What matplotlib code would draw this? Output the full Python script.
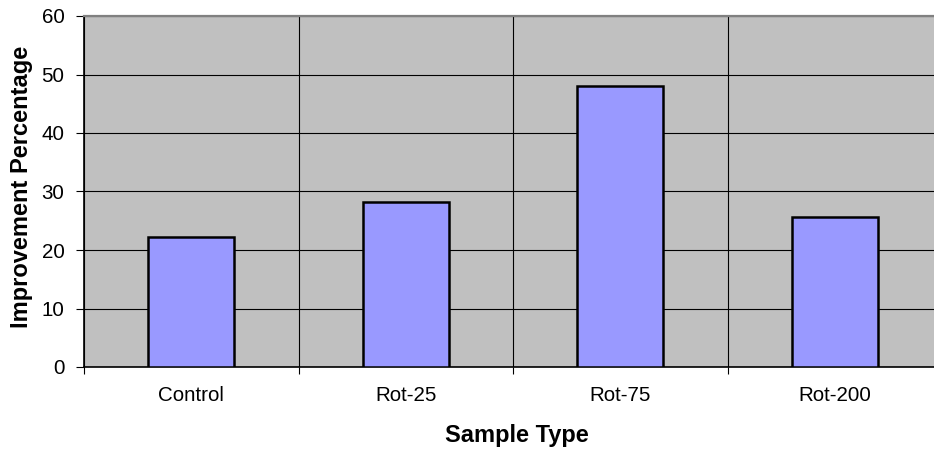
import matplotlib.pyplot as plt
from matplotlib.ticker import FixedLocator, NullFormatter

plt.rcParams['font.family'] = ['Liberation Sans', 'DejaVu Sans']

samples = ["Control", "Rot-25", "Rot-75", "Rot-200"]
improvement = [22.2, 28.2, 48.1, 25.6]
y_ticks = [0, 10, 20, 30, 40, 50, 60]

fig = plt.figure(figsize=(9.34, 4.51), dpi=100)
ax = fig.add_axes([84 / 934, 1 - 367 / 451, 858 / 934, 351 / 451])
ax.set_facecolor("#C0C0C0")

pos = list(range(len(samples)))
ax.bar(pos, improvement, width=0.4, color="#9999FF", edgecolor="black",
       linewidth=1.8, zorder=3)

ax.set_xlim(-0.5, len(samples) - 0.5)
ax.set_ylim(0, 60)
ax.set_yticks(y_ticks)

# category boundaries carry the ticks and vertical grid, names sit in between
ax.xaxis.set_major_locator(FixedLocator([i - 0.5 for i in range(len(samples) + 1)]))
ax.xaxis.set_major_formatter(NullFormatter())
ax.xaxis.set_minor_locator(FixedLocator(pos))
ax.set_xticklabels(samples, minor=True)
ax.tick_params(axis="x", which="minor", length=0, pad=14, labelsize=14.8)
ax.tick_params(axis="x", which="major", length=5, width=0.8, direction="out")
ax.tick_params(axis="y", length=6, width=0.8, pad=8, labelsize=14.8)

ax.grid(True, which="major", color="black", linewidth=0.8, zorder=1)
ax.set_axisbelow(True)

for s in ("left", "bottom"):
    ax.spines[s].set_color("black")
    ax.spines[s].set_linewidth(1.2)
ax.spines["top"].set_color("#808080")
ax.spines["top"].set_linewidth(1.6)
ax.spines["right"].set_visible(False)

ax.set_xlabel("Sample Type", fontsize=17, fontweight="bold")
ax.set_ylabel("Improvement Percentage", fontsize=17, fontweight="bold")
ax.xaxis.set_label_coords(0.505, -0.162)
ax.yaxis.set_label_coords(-0.0594, 0.514)

fig.savefig("out.png", dpi=100)
